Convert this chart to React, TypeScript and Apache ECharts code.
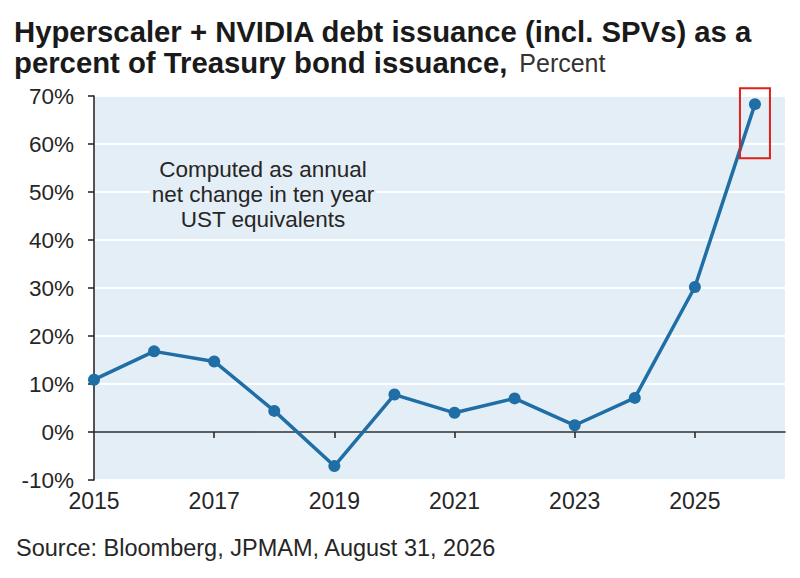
import React, { useEffect, useRef } from "react";
import * as echarts from "echarts";

const years = [2015, 2016, 2017, 2018, 2019, 2020, 2021, 2022, 2023, 2024, 2025, 2026];
const values = [10.9, 16.8, 14.7, 4.4, -7.1, 7.8, 4.0, 7.0, 1.4, 7.1, 30.2, 68.3];
const xLabelYears = [2015, 2017, 2019, 2021, 2023, 2025];
const xTickYears = [2017, 2019, 2021, 2023, 2025];
const yMin = -10;
const yMax = 70;
const yStep = 10;
const titleLine1 = "Hyperscaler + NVIDIA debt issuance (incl. SPVs) as a";
const titleLine2 = "percent of Treasury bond issuance,";
const titleUnit = "Percent";
const noteLines = ["Computed as annual", "net change in ten year", "UST equivalents"];
const sourceText = "Source: Bloomberg, JPMAM, August 31, 2026";

const FONT = "'Liberation Sans', Arial, Helvetica, sans-serif";
const LINE = "#1f6ea6";
const AXIS = "#2b2b2b";
const TEXT = "#262626";
const PLOT_BG = "#e4eef6";

export default function App() {
  const ref = useRef<HTMLDivElement>(null);

  useEffect(() => {
    if (!ref.current) return;
    const chart = echarts.init(ref.current, undefined, { renderer: "svg" });
    const data = years.map((y, i) => [y, values[i]]);

    chart.setOption({
      animation: false,
      backgroundColor: "#ffffff",
      textStyle: { fontFamily: FONT },
      title: {
        left: 14,
        top: 16,
        padding: 0,
        text: `{b|${titleLine1}}\n{b|${titleLine2}}{n|${titleUnit}}`,
        textStyle: {
          rich: {
            b: { fontSize: 29.3, fontWeight: "bold", color: "#1a1a1a", fontFamily: FONT, lineHeight: 31 },
            n: {
              fontSize: 25,
              fontWeight: "normal",
              color: "#333",
              fontFamily: FONT,
              lineHeight: 31,
              padding: [0, 0, 0, 12],
            },
          },
        },
      },
      grid: {
        left: 94,
        right: 15,
        top: 96,
        bottom: 98,
        show: true,
        backgroundColor: PLOT_BG,
        borderWidth: 0,
      },
      xAxis: [
        {
          type: "value",
          min: 2015,
          max: 2026.5,
          position: "bottom",
          axisLine: { show: false, onZero: false },
          axisTick: { show: false },
          splitLine: { show: false },
          axisLabel: {
            customValues: xLabelYears,
            fontSize: 23,
            color: TEXT,
            margin: 9,
            fontFamily: FONT,
            formatter: (v: number) => String(v),
          },
        },
        {
          type: "value",
          min: 2015,
          max: 2026.5,
          position: "bottom",
          axisLine: { show: true, onZero: true, lineStyle: { color: AXIS, width: 1.6 } },
          axisTick: {
            show: true,
            customValues: xTickYears,
            length: 6,
            inside: false,
            lineStyle: { color: AXIS, width: 1.6 },
          },
          axisLabel: { show: false },
          splitLine: { show: false },
        },
      ],
      yAxis: {
        type: "value",
        min: yMin,
        max: yMax,
        interval: yStep,
        axisLine: { show: true, onZero: false, lineStyle: { color: AXIS, width: 1.6 } },
        axisTick: { show: true, length: 6, lineStyle: { color: AXIS, width: 1.6 } },
        axisLabel: {
          fontSize: 22.5,
          color: TEXT,
          margin: 20,
          fontFamily: FONT,
          formatter: (v: number) => `${v}%`,
        },
        splitLine: { show: true, lineStyle: { color: "#ffffff", width: 2 } },
      },
      series: [
        {
          type: "line",
          xAxisIndex: 0,
          data,
          symbol: "circle",
          symbolSize: 12,
          lineStyle: { color: LINE, width: 3.5 },
          itemStyle: { color: LINE },
          z: 5,
        },
      ],
      graphic: [
        {
          type: "text",
          x: 263,
          y: 157,
          z: 3,
          style: {
            text: noteLines.join("\n"),
            font: `22.5px ${FONT}`,
            fill: TEXT,
            textAlign: "center",
            lineHeight: 25,
            backgroundColor: PLOT_BG,
            padding: [0, 2],
          },
        },
        {
          type: "text",
          x: 16,
          y: 536,
          style: {
            text: sourceText,
            font: `23.5px ${FONT}`,
            fill: TEXT,
          },
        },
      ],
    });

    const last = data[data.length - 1];
    const p = chart.convertToPixel({ xAxisIndex: 0, yAxisIndex: 0 }, last) as number[];
    if (p) {
      chart.setOption({
        graphic: [
          {
            type: "rect",
            id: "highlight",
            shape: { x: p[0] - 15, y: p[1] - 16, width: 30, height: 70 },
            style: { fill: "none", stroke: "#e0201b", lineWidth: 2 },
            z: 10,
          },
        ],
      });
    }

    return () => chart.dispose();
  }, []);

  return (
    <div
      ref={ref}
      style={{ position: "absolute", left: 0, top: 0, width: 800, height: 578 }}
    />
  );
}
